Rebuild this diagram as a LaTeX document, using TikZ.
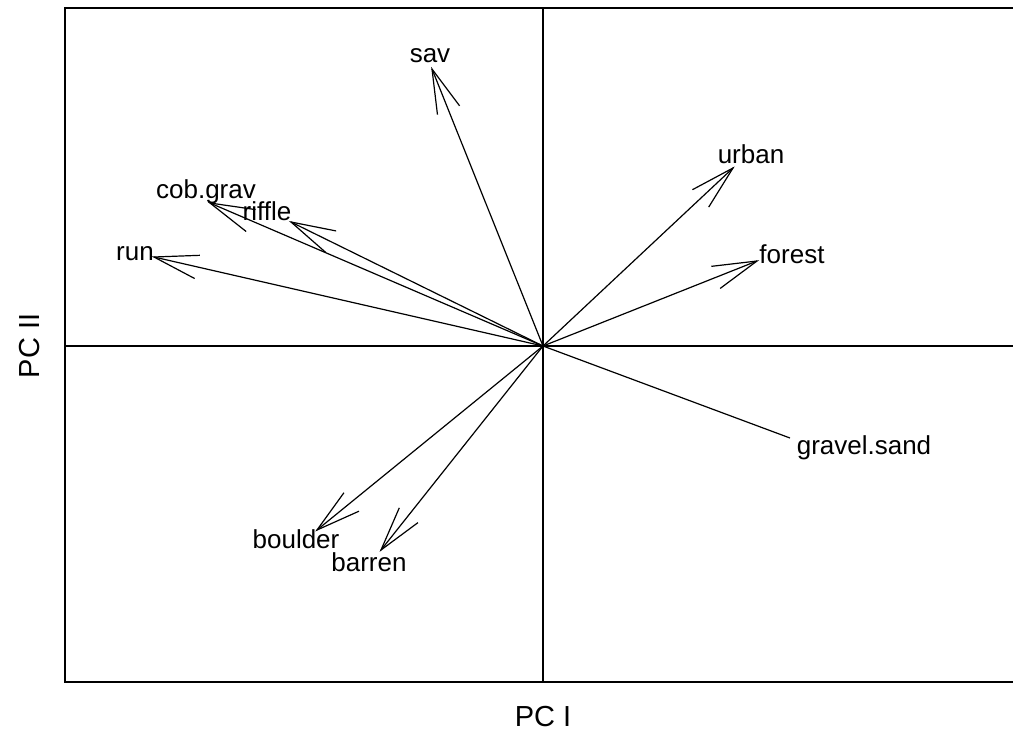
\documentclass[tikz,border=0pt]{standalone}
\usepackage{fontspec}
\setmainfont{Liberation Sans}
\usetikzlibrary{calc}
\begin{document}
\begin{tikzpicture}[x=0.5pt,y=-0.5pt,
  frame/.style={line width=1pt},
  axisline/.style={line width=0.6pt},
  vec/.style={line width=0.6pt},
  barb/.style={line width=0.6pt},
  lab/.style={font=\fontsize{13}{15}\selectfont, inner sep=0pt, anchor=base},
  axlab/.style={font=\fontsize{14.5}{17}\selectfont, inner sep=0pt}]
\useasboundingbox (0,0) rectangle (1013,736);
% frame (right side open)
\draw[frame] (1013,8) -- (65,8) -- (65,682) -- (1013,682);
% axes through origin
\coordinate (O) at (543,346);
\coordinate (xl) at (65,346);
\coordinate (xr) at (1013,346);
\coordinate (yt) at (543,8);
\coordinate (yb) at (543,682);
\draw[axisline] (xl) -- (xr);
\draw[axisline] (yt) -- (yb);
% vector tips
\coordinate (sav) at (432,69);
\coordinate (cobgrav) at (210,203);
\coordinate (riffle) at (291,222);
\coordinate (run) at (154,257);
\coordinate (urban) at (733,168);
\coordinate (forest) at (757,261);
\coordinate (gravelsand) at (790,438);
\coordinate (boulder) at (317,530);
\coordinate (barren) at (381,550);
% vectors with open heads
\foreach \t in {sav,cobgrav,riffle,run,urban,forest,boulder,barren}{
  \draw[vec] (O) -- (\t);
  \draw[barb] ($(\t)!23pt!15:(O)$) -- (\t) -- ($(\t)!23pt!-15:(O)$);
}
\draw[vec] (O) -- (gravelsand);
% labels
\node[lab] (lsav) at (430,62) {sav};
\node[lab] (lcob) at (206,198) {cob.grav};
\node[lab] (lriffle) at (267,220) {riffle};
\node[lab] (lrun) at (135,260) {run};
\node[lab] (lurban) at (751,163) {urban};
\node[lab] (lforest) at (792,263) {forest};
\node[lab] (lgravel) at (864,454) {gravel.sand};
\node[lab] (lboulder) at (296,548) {boulder};
\node[lab] (lbarren) at (369,571) {barren};
% axis titles
\node[axlab] (pc1) at (543,717) {PC I};
\node[axlab, rotate=90] (pc2) at (30,346) {PC II};
\end{tikzpicture}
\end{document}
